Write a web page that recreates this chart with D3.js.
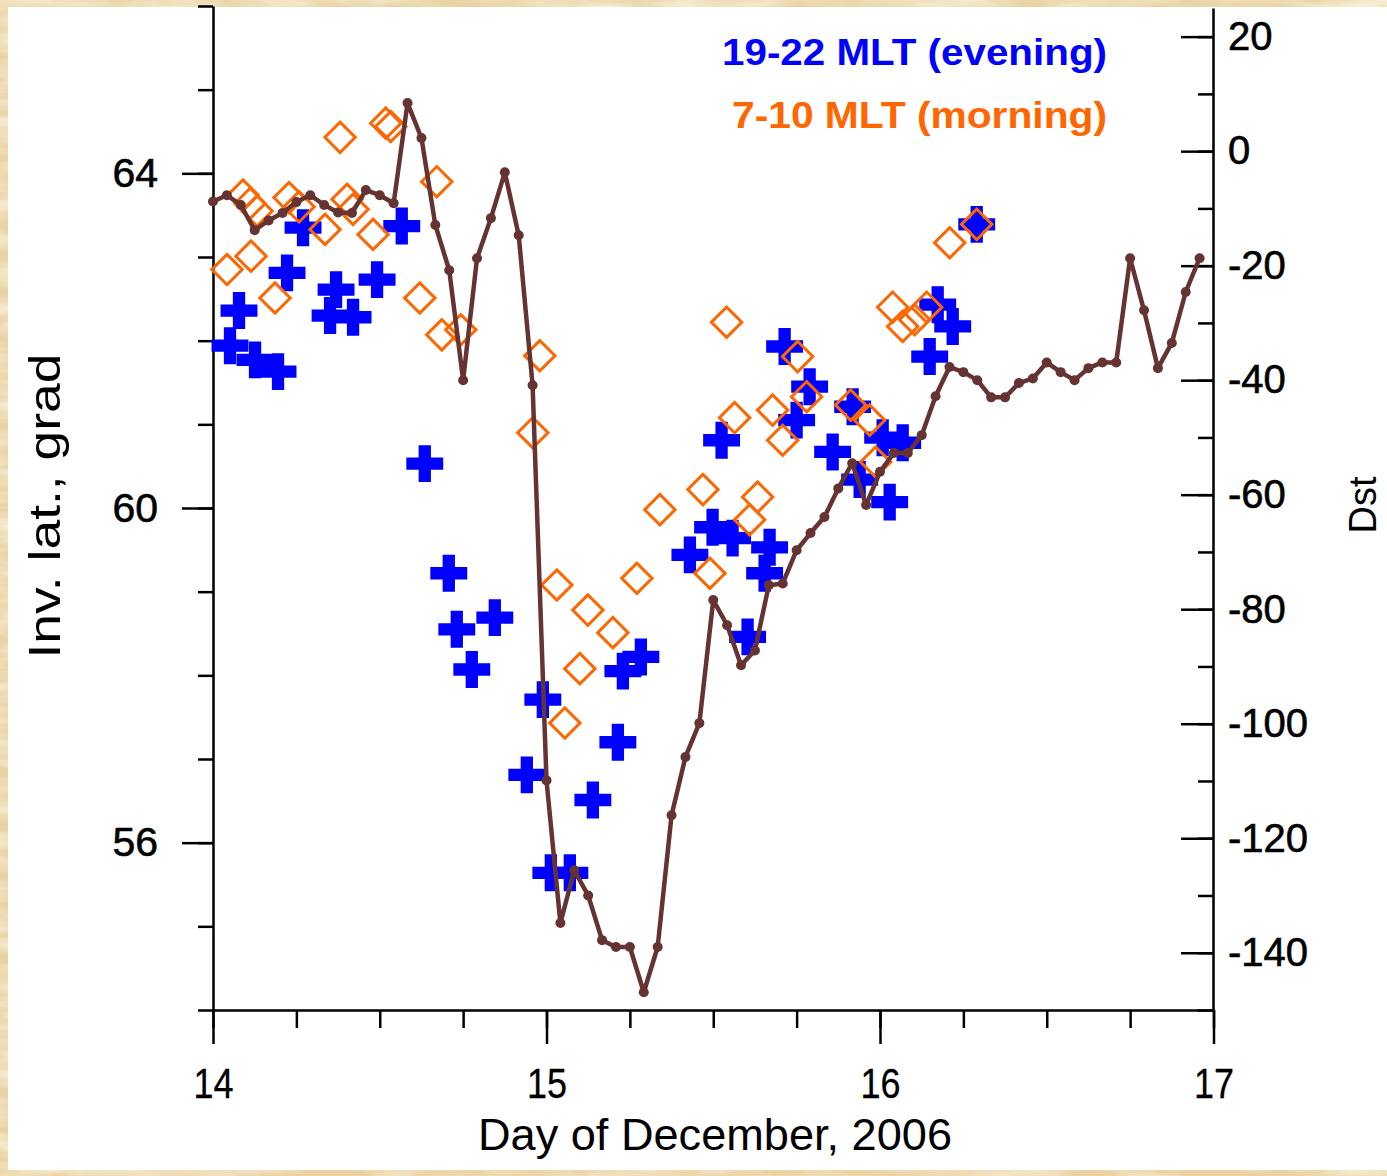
<!DOCTYPE html>
<meta charset="utf-8">
<script src="https://d3js.org/d3.v7.min.js"></script>
<style>
  body { margin: 0; background: #ecd8ac; }
  svg { display: block; }
</style>
<div id="chart"></div>
<script>
// hourly Dst, first value at 00 UT of Dec 14
var dstStartDay = 14;
var dstValues = [-8.8,-7.7,-9.4,-13.8,-12.1,-10.8,-8.9,-7.7,-9.4,-10.7,-10.8,-6.8,-7.7,-9.1,8.4,2.3,
  -12.9,-20.8,-40,-18.7,-11.7,-3.7,-14.7,-40.9,-109.9,-134.8,-125.6,-130,-137.8,-139,-139,-146.9,
  -139,-116,-105.8,-99.9,-78.4,-82.8,-89.8,-87.2,-75.8,-75.5,-69.7,-66.7,-63.9,-58.9,-54.5,-61.8,
  -56,-52.7,-52.7,-49.6,-42.8,-37.7,-38.6,-40,-43,-43,-40.5,-39.7,-36.9,-38.6,-40,-37.9,
  -36.9,-36.9,-18.7,-27.8,-37.9,-33.5,-24.6,-18.7];

// 19-22 MLT (evening) boundary
var eveningDay = [14.051,14.078,14.126,14.195,14.222,14.270,14.351,14.369,14.420,14.492,14.566,14.635,
  14.707,14.731,14.776,14.845,14.941,14.989,15.013,15.070,15.139,15.214,15.229,15.283,15.430,15.498,
  15.558,15.525,15.603,15.654,15.669,15.714,15.750,15.789,15.858,15.918,15.939,16.008,16.068,16.029,
  16.149,16.173,16.218,16.290];
var eveningLat = [61.94,62.36,61.77,61.63,62.81,63.35,62.30,62.61,62.28,62.73,63.37,60.53,
  59.22,58.55,58.07,58.69,56.81,57.71,55.64,55.64,56.51,57.20,58.05,58.22,59.44,59.77,
  59.64,60.81,58.46,59.22,59.53,61.93,61.05,61.45,60.67,61.21,60.34,60.84,60.78,60.07,
  61.81,62.43,62.17,63.39];

// 7-10 MLT (morning) boundary
var morningDay = [14.042,14.114,14.090,14.111,14.132,14.186,14.228,14.258,14.336,14.381,14.402,14.420,
  14.480,14.518,14.533,14.620,14.671,14.686,14.743,14.959,14.980,15.031,15.055,15.100,15.124,15.199,
  15.271,15.340,15.469,15.490,15.540,15.564,15.609,15.633,15.678,15.708,15.753,15.780,15.912,15.969,
  15.987,16.038,16.068,16.104,16.140,16.209,16.290];
var morningLat = [62.85,63.01,63.74,63.64,63.55,62.51,63.71,63.60,63.33,64.43,63.69,63.57,
  63.27,64.60,64.56,62.51,63.90,62.07,62.13,60.90,61.82,59.08,57.43,58.08,58.78,58.51,
  59.16,59.98,60.22,59.22,62.22,61.08,59.86,60.13,61.17,60.81,61.81,61.33,61.23,61.05,
  60.55,62.40,62.17,62.25,62.40,63.17,63.39];

var latMajor = [56, 60, 64];
var latMinor = d3.range(54, 67, 1);
var dstMajor = [20, 0, -20, -40, -60, -80, -100, -120, -140];
var dstMinor = d3.range(-150, 30, 10);
var dayMajor = [14, 15, 16, 17];
var dayMinor = d3.range(14, 17.01, 0.25);

var W = 1387, H = 1176;

var svg = d3.select("#chart").append("svg")
    .attr("width", W)
    .attr("height", H)
    .style("font-family", "'Liberation Sans', Arial, sans-serif");

// parchment background
var defs = svg.append("defs");
var f = defs.append("filter").attr("id", "paper")
    .attr("x", 0).attr("y", 0).attr("width", "100%").attr("height", "100%");
f.append("feTurbulence").attr("type", "fractalNoise")
    .attr("baseFrequency", "0.012 0.06").attr("numOctaves", 4).attr("seed", 7);
f.append("feColorMatrix").attr("type", "matrix")
    .attr("values", "0 0 0 0 0.98  0 0 0 0 0.92  0 0 0 0 0.78  1.6 0 0 0 -0.55");
svg.append("rect").attr("width", W).attr("height", H).attr("fill", "#e9d3a3");
svg.append("rect").attr("width", W).attr("height", H).attr("filter", "url(#paper)");

// white panel
svg.append("rect")
    .attr("x", 8).attr("y", 7)
    .attr("width", W - 8).attr("height", 1163)
    .attr("fill", "#ffffff");

var x = d3.scaleLinear().domain([14, 17]).range([213, 1213.5]);
var yLat = d3.scaleLinear().domain([54, 66]).range([1010, 6]);
var yDst = d3.scaleLinear().domain([-150, 25]).range([1010, 8]);

function styleAxis(g) {
  g.selectAll("path, line").attr("stroke", "#000").attr("stroke-width", 2.5);
  g.selectAll("text").attr("fill", "#000").style("font-size", "40px")
    .attr("stroke", "#000").attr("stroke-width", 0.6);
}

// left axis
svg.append("g").attr("transform", "translate(213,0)")
    .call(d3.axisLeft(yLat).tickValues(latMinor).tickSize(15).tickSizeOuter(0).tickFormat(""))
    .call(styleAxis);
svg.append("g").attr("transform", "translate(213,0)")
    .call(d3.axisLeft(yLat).tickValues(latMajor).tickSize(31).tickPadding(24).tickFormat(d3.format("d")))
    .call(styleAxis)
    .call(function(g) { g.select(".domain").remove(); g.selectAll("text").style("font-size", "41px"); });

// right axis (ticks point inward)
svg.append("g").attr("transform", "translate(1213,0)")
    .call(d3.axisRight(yDst).tickValues(dstMinor).tickSizeInner(-15).tickSizeOuter(0).tickFormat(""))
    .call(styleAxis);
svg.append("g").attr("transform", "translate(1213,0)")
    .call(d3.axisRight(yDst).tickValues(dstMajor).tickSizeInner(-32).tickSizeOuter(0).tickPadding(15)
      .tickFormat(function(d) { return d < 0 ? "-" + Math.abs(d) : d; }))
    .call(styleAxis)
    .call(function(g) { g.select(".domain").remove(); });

// bottom axis
svg.append("g").attr("transform", "translate(0,1010)")
    .call(d3.axisBottom(x).tickValues(dayMinor).tickSize(18).tickSizeOuter(0).tickFormat(""))
    .call(styleAxis);
svg.append("g").attr("transform", "translate(0,1010)")
    .call(d3.axisBottom(x).tickValues(dayMajor).tickSize(34).tickPadding(24).tickFormat(d3.format("d")))
    .call(styleAxis)
    .call(function(g) {
      g.select(".domain").remove();
      g.selectAll("text").style("font-size", "42px").attr("stroke-width", 0.3)
        .attr("textLength", 40).attr("lengthAdjust", "spacingAndGlyphs");
    });

// axis titles
svg.append("text")
    .attr("x", 715).attr("y", 1150)
    .attr("text-anchor", "middle")
    .attr("textLength", 474).attr("lengthAdjust", "spacingAndGlyphs")
    .style("font-size", "44px")
    .text("Day of December, 2006");

svg.append("text")
    .attr("transform", "translate(60,506) rotate(-90)")
    .attr("text-anchor", "middle")
    .attr("textLength", 305).attr("lengthAdjust", "spacingAndGlyphs")
    .style("font-size", "44px")
    .text("Inv. lat., grad");

svg.append("text")
    .attr("transform", "translate(1376,505) rotate(-90)")
    .attr("text-anchor", "middle")
    .style("font-size", "38px")
    .text("Dst");

// evening crosses
var cross = d3.symbol().type(d3.symbolCross).size(5 * 12.3 * 12.3);
svg.append("g").selectAll("path")
    .data(d3.zip(eveningDay, eveningLat))
    .enter().append("path")
      .attr("transform", function(d) { return "translate(" + x(d[0]) + "," + yLat(d[1]) + ")"; })
      .attr("d", cross)
      .attr("fill", "#0000ff");

// morning diamonds
var square = d3.symbol().type(d3.symbolSquare).size(21.5 * 21.5);
svg.append("g").selectAll("path")
    .data(d3.zip(morningDay, morningLat))
    .enter().append("path")
      .attr("transform", function(d) { return "translate(" + x(d[0]) + "," + yLat(d[1]) + ") rotate(45)"; })
      .attr("d", square)
      .attr("fill", "none")
      .attr("stroke", "#ff6600")
      .attr("stroke-width", 3);

// Dst line
var dstPts = dstValues.map(function(v, i) { return [dstStartDay + i / 24, v]; });
svg.append("path")
    .datum(dstPts)
    .attr("fill", "none")
    .attr("stroke", "#663333")
    .attr("stroke-width", 4.5)
    .attr("stroke-linejoin", "round")
    .attr("d", d3.line().x(function(d) { return x(d[0]); }).y(function(d) { return yDst(d[1]); }));
svg.append("g").selectAll("circle")
    .data(dstPts)
    .enter().append("circle")
      .attr("cx", function(d) { return x(d[0]); })
      .attr("cy", function(d) { return yDst(d[1]); })
      .attr("r", 5)
      .attr("fill", "#663333");

// legend
svg.append("text")
    .attr("x", 1107).attr("y", 65)
    .attr("text-anchor", "end")
    .attr("textLength", 385).attr("lengthAdjust", "spacingAndGlyphs")
    .attr("fill", "#0000ff")
    .style("font-size", "37px").style("font-weight", "bold")
    .text("19-22 MLT (evening)");
svg.append("text")
    .attr("x", 1107).attr("y", 128)
    .attr("text-anchor", "end")
    .attr("textLength", 375).attr("lengthAdjust", "spacingAndGlyphs")
    .attr("fill", "#ff6600")
    .style("font-size", "37px").style("font-weight", "bold")
    .text("7-10 MLT (morning)");
</script>
